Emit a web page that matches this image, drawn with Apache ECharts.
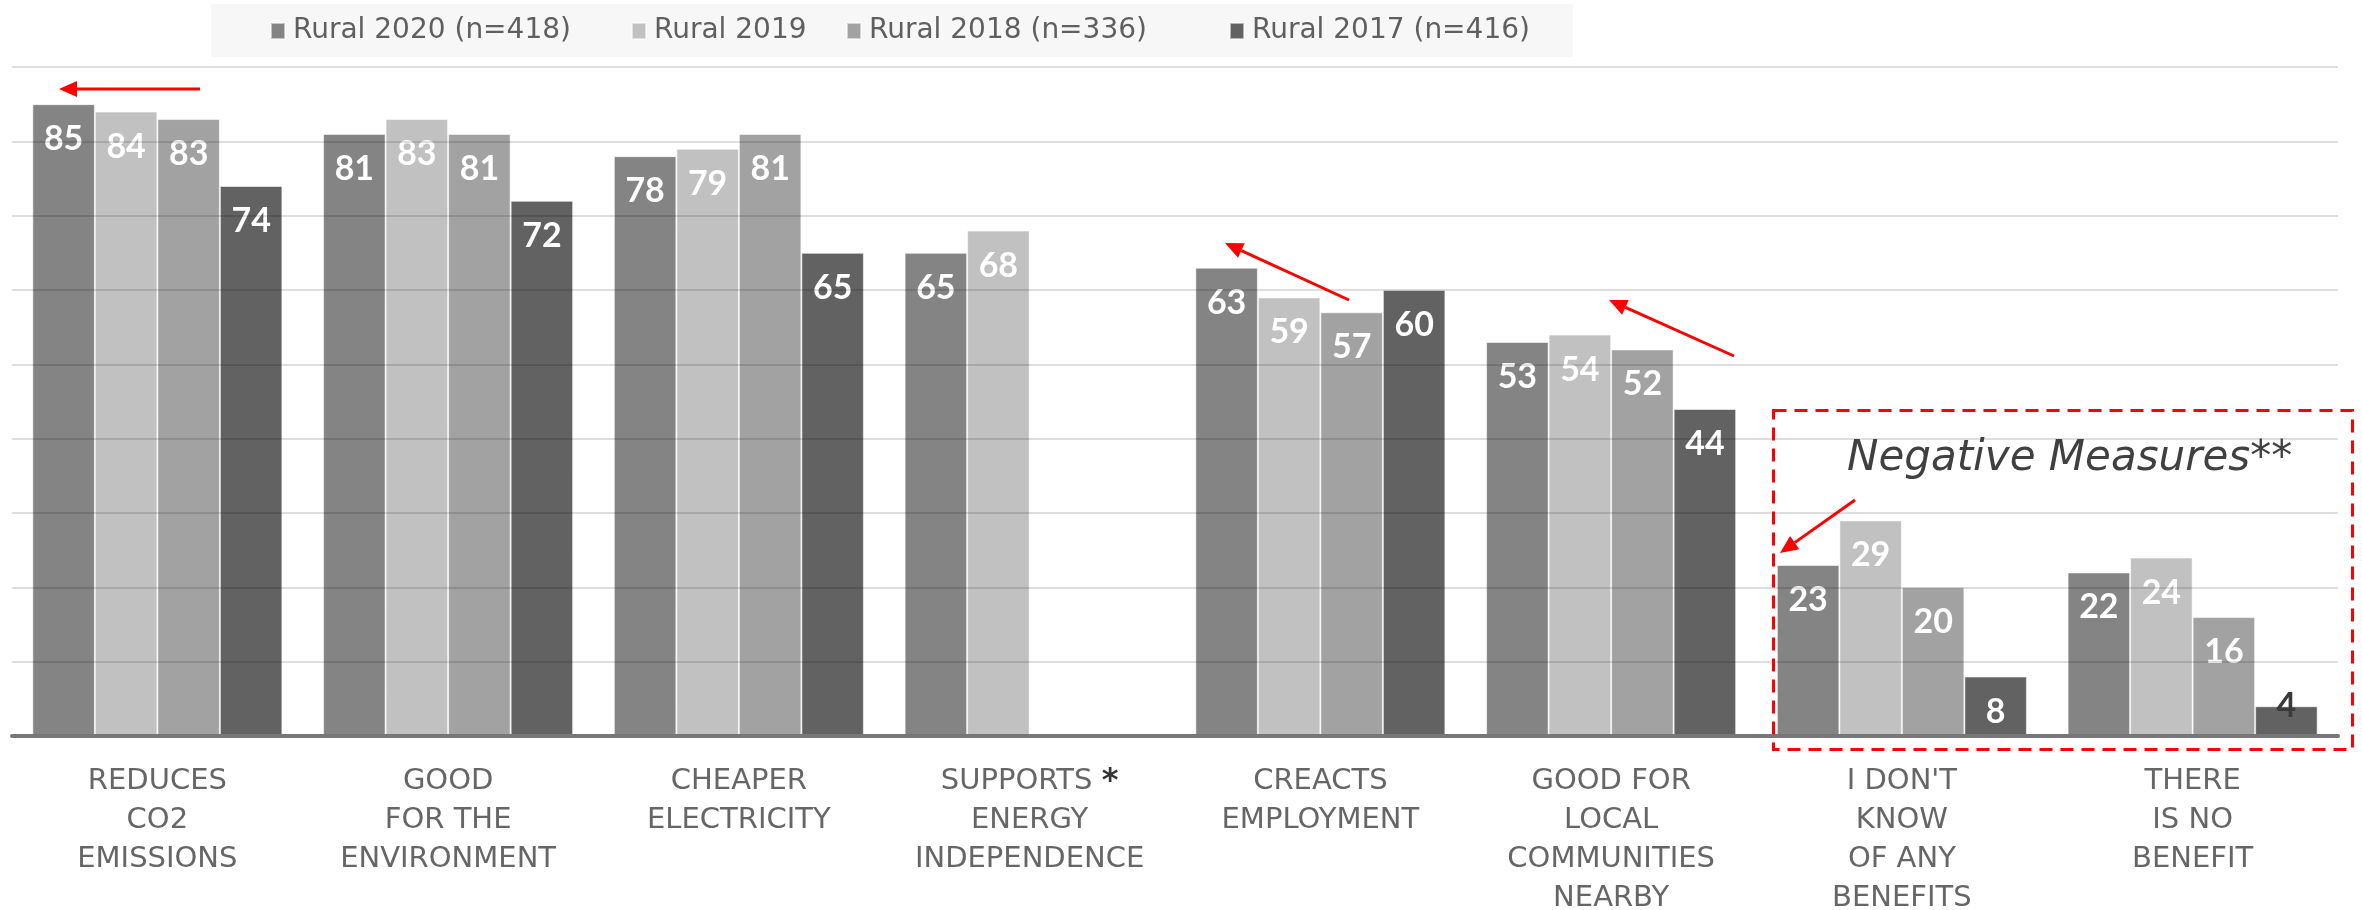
<!DOCTYPE html>
<html>
<head>
<meta charset="utf-8">
<script src="https://cdn.jsdelivr.net/npm/echarts@6/dist/echarts.min.js"></script>
<style>
  html, body { margin: 0; padding: 0; background: #fff; }
  #mychart { width: 2362px; height: 910px; }
</style>
</head>
<body>
<div id="mychart"></div>
<script>
// categories (x axis)
var categories = [
  'REDUCES\nCO2\nEMISSIONS',
  'GOOD\nFOR THE\nENVIRONMENT',
  'CHEAPER\nELECTRICITY',
  'SUPPORTS *\nENERGY\nINDEPENDENCE',
  'CREACTS\nEMPLOYMENT',
  'GOOD FOR\nLOCAL\nCOMMUNITIES\nNEARBY',
  "I DON'T\nKNOW\nOF ANY\nBENEFITS",
  'THERE\nIS NO\nBENEFIT'
];
// series
var seriesNames = ['Rural 2020 (n=418)', 'Rural 2019', 'Rural 2018 (n=336)', 'Rural 2017 (n=416)'];
var rural2020 = [85, 81, 78, 65, 63, 53, 23, 22];
var rural2019 = [84, 83, 79, 68, 59, 54, 29, 24];
var rural2018 = [83, 81, 81, null, 57, 52, 20, 16];
var rural2017 = [74, 72, 65, null, 60, 44, 8, 4];
var colors = ['#848484', '#c1c1c1', '#a2a2a2', '#626262'];
// value axis ticks
var yMin = 0, yMax = 90, yStep = 10;

var mychart = echarts.init(document.getElementById('mychart'));

function makeData(arr) {
  return arr.map(function (v) {
    if (v === null) return '-';
    if (v < 6) {
      // too short for the white label: dark label sitting on top
      return { value: v, label: { color: '#3a3a3a', distance: -17 } };
    }
    return v;
  });
}

function arrow(x1, y1, x2, y2) {
  var ang = Math.atan2(y2 - y1, x2 - x1);
  var L = 18, W = 8;
  var bx = x2 - L * Math.cos(ang), by = y2 - L * Math.sin(ang);
  var px = -Math.sin(ang) * W, py = Math.cos(ang) * W;
  return [
    { type: 'line', silent: true, z: 10,
      shape: { x1: x1, y1: y1, x2: bx, y2: by },
      style: { stroke: '#ff0000', lineWidth: 3 } },
    { type: 'polygon', silent: true, z: 10,
      shape: { points: [[x2, y2], [bx + px, by + py], [bx - px, by - py]] },
      style: { fill: '#ff0000' } }
  ];
}

var allData = [rural2020, rural2019, rural2018, rural2017];
var legendLeft = [270, 631, 846, 1229];

var graphics = [
  { type: 'rect', silent: true, z: -1, left: 211, top: 4,
    shape: { width: 1362, height: 53 }, style: { fill: '#f7f7f7' } },
  { type: 'rect', silent: true, z: 10, left: 1771, top: 408,
    shape: { width: 579, height: 339 },
    style: { fill: 'none', stroke: '#ff0000', lineWidth: 3, lineDash: [13, 8] } },
  { type: 'text', silent: true, z: 10, x: 1847, y: 459,
    style: { text: 'Negative Measures**', fill: '#404040', fontSize: 42,
             align: 'left', verticalAlign: 'middle',
             fontStyle: 'italic', fontFamily: 'DejaVu Sans' } }
]
  .concat(arrow(200, 89, 59, 89))
  .concat(arrow(1349, 300, 1225, 243))
  .concat(arrow(1734, 356, 1609, 300))
  .concat(arrow(1855, 500, 1780, 553));

var option = {
  animation: false,
  backgroundColor: '#fff',
  legend: seriesNames.map(function (n, i) {
    return {
      data: [n], left: legendLeft[i], top: 17, padding: 0, itemGap: 0,
      itemWidth: 14, itemHeight: 16, icon: 'rect',
      textStyle: { color: '#5f5f5f', fontSize: 28, fontFamily: 'DejaVu Sans', padding: [0, 0, 0, 3] }
    };
  }),
  grid: { left: 12, right: 24, top: 67, bottom: 174, outerBoundsMode: 'none' },
  xAxis: {
    type: 'category',
    data: categories,
    axisTick: { show: false },
    axisLine: { lineStyle: { color: '#777', width: 4 } },
    axisLabel: {
      interval: 0, margin: 26, color: '#666', fontSize: 29, lineHeight: 39,
      fontFamily: 'DejaVu Sans',
      formatter: function (v) { return v.replace('*', '{star|*}'); },
      rich: { star: { color: '#333', fontSize: 32, fontWeight: 'bold', fontFamily: 'DejaVu Sans', lineHeight: 39 } }
    },
    z: 3
  },
  yAxis: {
    type: 'value', min: yMin, max: yMax, interval: yStep,
    axisLabel: { show: false },
    axisLine: { show: false },
    axisTick: { show: false },
    splitLine: { lineStyle: { color: 'rgba(0,0,0,0.13)', width: 2 } },
    z: 3
  },
  series: allData.map(function (arr, i) {
    return {
      name: seriesNames[i],
      type: 'bar',
      barGap: '0%',
      barCategoryGap: '14%',
      data: makeData(arr),
      itemStyle: { color: colors[i], borderColor: 'rgba(255,255,255,0.55)', borderWidth: 1 },
      label: {
        show: true, position: 'insideTop', distance: 18,
        color: '#fff', fontSize: 34, fontWeight: 'bold', fontFamily: 'Lato'
      }
    };
  }),
  graphic: graphics
};
mychart.setOption(option);
</script>
</body>
</html>
